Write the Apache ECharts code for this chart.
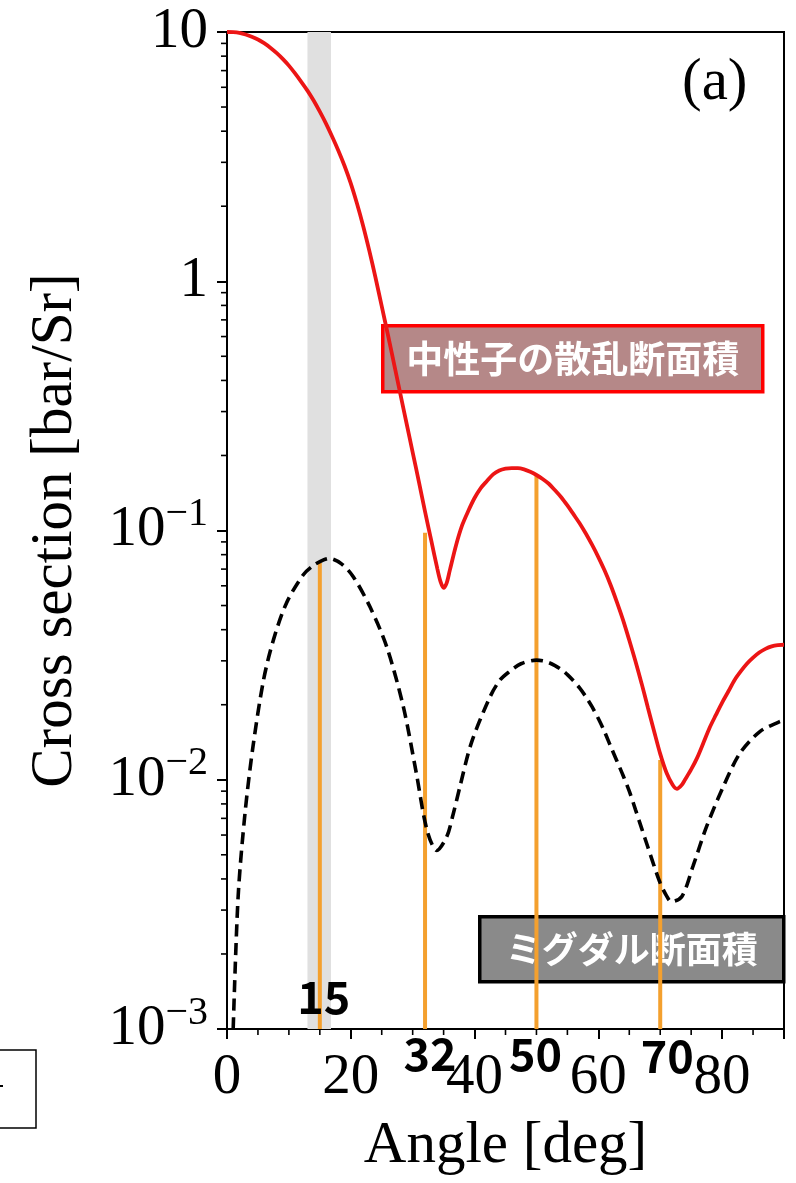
<!DOCTYPE html>
<html>
<head>
<meta charset="utf-8">
<script src="https://cdn.jsdelivr.net/npm/echarts@6/dist/echarts.min.js"></script>
<style>
  html, body { margin: 0; padding: 0; background: #fff; }
  #chart { width: 796px; height: 1183px; }
</style>
</head>
<body>
<div id="chart"></div>
<script>
// Neutron elastic scattering cross section (solid red), angle in degrees
const neutronAngle = [0, 1, 2, 3, 4, 5, 6, 7, 8, 9, 10, 11, 12, 13, 14, 15, 16, 17, 18, 19,
  20, 21, 22, 23, 24, 25, 26, 27, 28, 29, 30, 31, 32, 33, 34, 34.5, 35, 35.5, 36, 37, 38, 39,
  40, 41, 42, 43, 44, 45, 46, 47, 48, 49, 50, 51, 52, 53, 54, 55, 56, 57, 58, 59, 60, 61, 62,
  63, 64, 65, 66, 67, 68, 69, 70, 71, 72, 72.7, 73.5, 74, 75, 76, 77, 78, 79, 80, 81, 82, 83,
  84, 85, 86, 87, 88, 89, 90];
const neutronSigma = [10, 9.98, 9.91, 9.77, 9.57, 9.33, 9.02, 8.65, 8.24, 7.80,
  7.33, 6.82, 6.31, 5.82, 5.31, 4.79, 4.29, 3.80, 3.34, 2.90,
  2.47, 2.05, 1.667, 1.324, 1.033, 0.794, 0.610, 0.465, 0.354, 0.270,
  0.206, 0.157, 0.119, 0.0912, 0.0700, 0.0624, 0.0589, 0.0617, 0.0692, 0.0871, 0.105, 0.120,
  0.135, 0.148, 0.158, 0.168, 0.174, 0.177, 0.178, 0.178, 0.176, 0.172, 0.167, 0.161, 0.154,
  0.145, 0.136, 0.126, 0.116, 0.1067, 0.0970, 0.0875, 0.0782, 0.0692, 0.0603, 0.0516, 0.0437,
  0.0363, 0.0299, 0.0243, 0.0195, 0.0157, 0.0127, 0.0107, 0.00955, 0.0092, 0.00955, 0.0100,
  0.0110, 0.0123, 0.0141, 0.0162, 0.0182, 0.0204, 0.0226, 0.0251, 0.0272, 0.0292, 0.0309,
  0.0324, 0.0335, 0.0343, 0.0347, 0.0348];

// Migdal cross section (dashed black)
const migdalAngle = [1.0, 1.8, 2.9, 4.2, 5.9, 7.5, 9.6, 12.3, 14.0, 15.6, 16.5, 18.5, 20.4,
  23.1, 25.8, 28.5, 30.6, 32.3, 33.9, 35.5, 36.5, 37.6, 39.5, 42.5, 44.1, 45.5, 47.5, 50,
  51, 52, 53, 54, 55, 56, 57, 58, 59, 60, 61, 62, 63, 64, 65, 66, 67, 68, 69, 70, 71, 71.8,
  73.5, 75.3, 77.5, 80.2, 82.9, 86.1, 89.3, 90];
const migdalSigma = [0.0010, 0.0034, 0.0073, 0.0136, 0.0251, 0.0364, 0.0511, 0.0663, 0.0725,
  0.0762, 0.0773, 0.0735, 0.0653, 0.0494, 0.0342, 0.0196, 0.0106, 0.0063, 0.0052, 0.0059,
  0.0072, 0.0093, 0.0141, 0.0215, 0.0251, 0.0270, 0.0292, 0.0302,
  0.0300, 0.0295, 0.0287, 0.0277, 0.0264, 0.0249, 0.0233, 0.0215, 0.0196, 0.0176, 0.0156,
  0.0136, 0.0119, 0.0104, 0.0090, 0.00759, 0.00638, 0.00537, 0.00452, 0.00385, 0.00343, 0.00324,
  0.0034, 0.0045, 0.0065, 0.0094, 0.0128, 0.0156, 0.0171, 0.0173];

// Highlighted angles: vertical markers and their heights
const markerAngles = [15, 32, 50, 70];
const markerTops = [0.074, 0.098, 0.167, 0.012];
const markerLabels = ['15', '32', '50', '70'];

// Shaded angular band
const bandRange = [13, 16.8];

// Axis ticks
const xRange = [0, 90];
const yRange = [0.001, 10];
const xMinorTicks = [5, 10, 15, 25, 30, 35, 45, 50, 55, 65, 70, 75, 85, 90];
const yMinorTicks = [];
[0.001, 0.01, 0.1, 1].forEach(function (d) {
  for (let m = 2; m <= 9; m++) yMinorTicks.push(+(m * d).toPrecision(3));
});

const legendNeutron = '中性子の散乱断面積';
const legendMigdal = 'ミグダル断面積';
const panelTag = '(a)';
const xTitle = 'Angle [deg]';
const yTitle = 'Cross section [bar/Sr]';

// ---- layout ----
const SERIF = '"Liberation Serif", "Times New Roman", serif';
const SANS_JP = '"Noto Sans CJK JP", "Noto Sans", sans-serif';
const GRID = { left: 227, top: 32, right: 12, bottom: 154 };
// label offsets (px) from the foot of each marker line
const markerLabelOffsets = [[4, -32], [5, 25], [-1, 25], [7, 27]];

function zip(a, b) { return a.map(function (v, i) { return [v, b[i]]; }); }

function yLabel(v) {
  const e = Math.round(Math.log10(v));
  if (e === 1) return '{b|10}';
  if (e === 0) return '{b|1}';
  return '{b|10}{s|\u2212' + (-e) + '}';
}

const chart = echarts.init(document.getElementById('chart'), null, { renderer: 'canvas' });

const option = {
  animation: false,
  backgroundColor: '#fff',
  grid: {
    left: GRID.left, top: GRID.top, right: GRID.right, bottom: GRID.bottom,
    show: true, borderColor: '#000', borderWidth: 2, backgroundColor: 'transparent'
  },
  xAxis: {
    type: 'value', min: xRange[0], max: xRange[1], interval: 20,
    name: xTitle, nameLocation: 'middle', nameGap: 88,
    nameTextStyle: { fontFamily: SERIF, fontSize: 59, color: '#000' },
    axisLine: { show: true, lineStyle: { color: '#000', width: 2 } },
    axisTick: { show: true, length: 10, lineStyle: { color: '#000', width: 2 } },
    axisLabel: {
      fontFamily: SERIF, fontSize: 57, color: '#000', margin: 21,
      formatter: function (v) { return v % 20 === 0 ? String(v) : ''; }
    },
    splitLine: { show: false }
  },
  yAxis: {
    type: 'log', logBase: 10, min: yRange[0], max: yRange[1],
    name: yTitle, nameLocation: 'middle', nameGap: 142, nameRotate: 90,
    nameTextStyle: { fontFamily: SERIF, fontSize: 59, color: '#000' },
    axisLine: { show: true, lineStyle: { color: '#000', width: 2 } },
    axisTick: { show: true, length: 10, lineStyle: { color: '#000', width: 2 } },
    axisLabel: {
      color: '#000', margin: 19, formatter: yLabel,
      rich: {
        b: { fontFamily: SERIF, fontSize: 57, color: '#000', lineHeight: 72 },
        s: { fontFamily: SERIF, fontSize: 40, color: '#000', lineHeight: 40, verticalAlign: 'top' }
      }
    },
    splitLine: { show: false }
  },
  series: [
    {
      name: 'band', type: 'custom', z: 1, silent: true, clip: true,
      data: [[bandRange[0], bandRange[1]]],
      renderItem: function (params, api) {
        const p0 = api.coord([api.value(0), yRange[1]]);
        const p1 = api.coord([api.value(1), yRange[0]]);
        return { type: 'rect', shape: { x: p0[0], y: p0[1], width: p1[0] - p0[0], height: p1[1] - p0[1] },
          style: { fill: '#e0e0e0' } };
      }
    },
    {
      name: 'markers', type: 'custom', z: 2, silent: true,
      data: zip(markerAngles, markerTops),
      renderItem: function (params, api) {
        const p0 = api.coord([api.value(0), yRange[0]]);
        const p1 = api.coord([api.value(0), api.value(1)]);
        return { type: 'line', shape: { x1: p0[0], y1: p0[1], x2: p1[0], y2: p1[1] },
          style: { stroke: '#f4a02e', lineWidth: 4 } };
      }
    },
    {
      name: 'Migdal', type: 'line', z: 3, silent: true,
      data: zip(migdalAngle, migdalSigma),
      showSymbol: false, symbol: 'none', smooth: 0.3,
      lineStyle: { color: '#000', width: 3.6, type: [12, 6.5] }
    },
    {
      name: 'Neutron', type: 'line', z: 4, silent: true,
      data: zip(neutronAngle, neutronSigma),
      showSymbol: false, symbol: 'none', smooth: 0.3,
      lineStyle: { color: '#ec1515', width: 3.8 }
    },
    {
      name: 'xMinor', type: 'custom', z: 5, silent: true, clip: false,
      data: xMinorTicks.map(function (v) { return [v, yRange[0]]; }),
      renderItem: function (params, api) {
        const p = api.coord([api.value(0), yRange[0]]);
        return { type: 'line', shape: { x1: p[0], y1: p[1], x2: p[0], y2: p[1] + 6 },
          style: { stroke: '#000', lineWidth: 1.6 } };
      }
    },
    {
      name: 'yMinor', type: 'custom', z: 5, silent: true, clip: false,
      data: yMinorTicks.map(function (v) { return [xRange[0], v]; }),
      renderItem: function (params, api) {
        const p = api.coord([xRange[0], api.value(1)]);
        return { type: 'line', shape: { x1: p[0] - 6, y1: p[1], x2: p[0], y2: p[1] },
          style: { stroke: '#000', lineWidth: 1.6 } };
      }
    },
    {
      name: 'markerLabels', type: 'custom', z: 6, silent: true, clip: false,
      data: markerAngles.map(function (v, i) { return [v, yRange[0], i]; }),
      renderItem: function (params, api) {
        const i = api.value(2);
        const p = api.coord([api.value(0), yRange[0]]);
        const off = markerLabelOffsets[i];
        return { type: 'text', x: p[0] + off[0], y: p[1] + off[1],
          style: { text: markerLabels[i], fill: '#000', font: 'bold 45px ' + SANS_JP,
            align: 'center', verticalAlign: 'middle', textAlign: 'center', textVerticalAlign: 'middle' } };
      }
    }
  ],
  graphic: [
    {
      type: 'text', z: 50, left: 682, top: 54,
      style: { text: panelTag, fill: '#000', font: '59px ' + SERIF }
    },
    {
      type: 'group', z: 100, left: 381, top: 324,
      children: [
        { type: 'rect', shape: { x: 0, y: 0, width: 380, height: 66 },
          style: { fill: 'rgba(107,17,17,0.5)', stroke: '#ff0000', lineWidth: 3.5 } },
        { type: 'text', x: 190, y: 33,
          style: { text: legendNeutron, fill: '#fff', font: 'bold 37px ' + SANS_JP,
            align: 'center', verticalAlign: 'middle', textAlign: 'center', textVerticalAlign: 'middle' } }
      ]
    },
    {
      type: 'group', z: 100, left: 478, top: 915,
      children: [
        { type: 'rect', shape: { x: 0, y: 0, width: 304, height: 65 },
          style: { fill: 'rgba(21,21,21,0.5)', stroke: '#000', lineWidth: 3.5 } },
        { type: 'text', x: 152, y: 33,
          style: { text: legendMigdal, fill: '#fff', font: 'bold 36px ' + SANS_JP,
            align: 'center', verticalAlign: 'middle', textAlign: 'center', textVerticalAlign: 'middle' } }
      ]
    },
    {
      type: 'group', z: 10,
      children: [
        { type: 'rect', shape: { x: -10, y: 1050, width: 46, height: 78 },
          style: { fill: 'none', stroke: '#000', lineWidth: 1.5 } },
        { type: 'line', shape: { x1: 0, y1: 1086, x2: 3, y2: 1086 },
          style: { stroke: '#000', lineWidth: 2 } }
      ]
    }
  ]
};

chart.setOption(option);
</script>
</body>
</html>
